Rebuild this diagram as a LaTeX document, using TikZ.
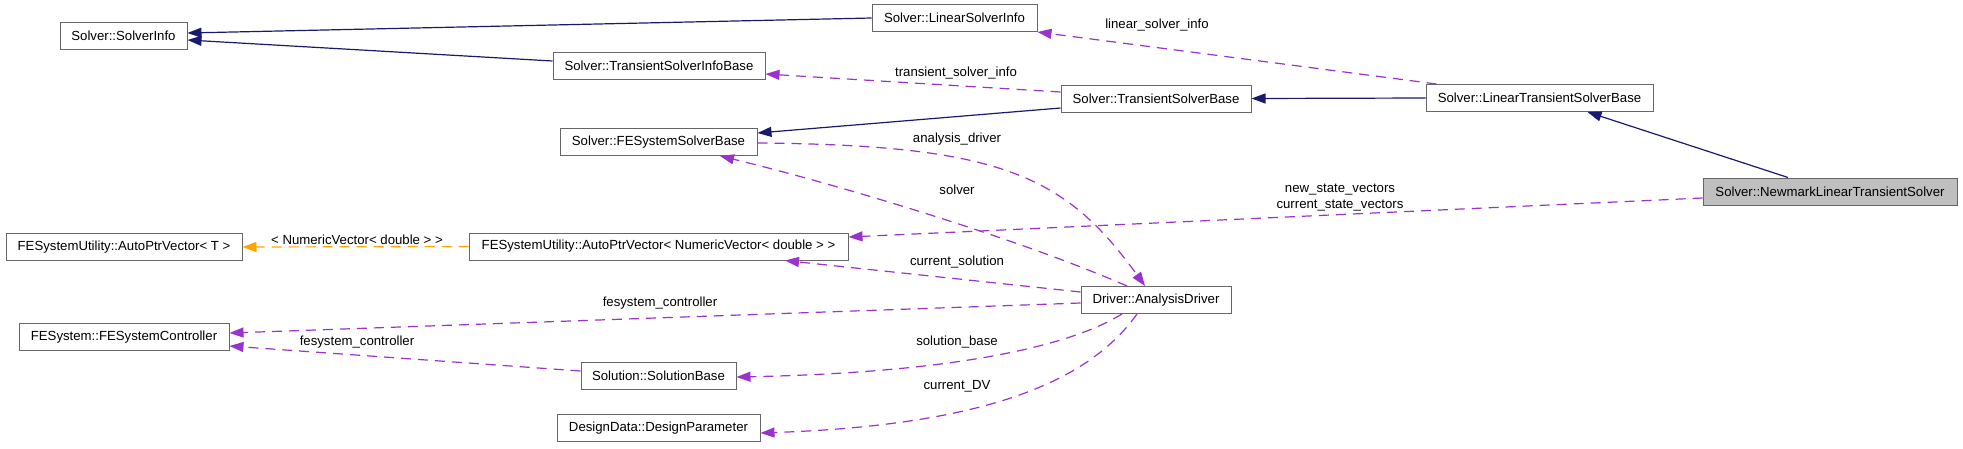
\documentclass[tikz,border=0pt]{standalone}
\usepackage{fontspec}
\setmainfont{Liberation Sans}
\usetikzlibrary{arrows.meta,calc}
\definecolor{navyedge}{HTML}{191970}
\definecolor{useedge}{HTML}{9A32CD}
\definecolor{tmpledge}{HTML}{FFA500}
\definecolor{curfill}{HTML}{BFBFBF}
\tikzset{
  cls/.style={draw=black!60, line width=1pt, fill=white, inner sep=0pt, minimum height=27pt, font=\fontsize{13.2pt}{15pt}\selectfont},
  cur/.style={cls, fill=curfill},
  inh/.style={draw=navyedge, line width=1.2pt, -{Triangle[length=14pt,width=10pt]}, color=navyedge},
  use/.style={draw=useedge, line width=1.2pt, dash pattern=on 10pt off 7pt, -{Triangle[length=14pt,width=10pt]}, color=useedge},
  tmpl/.style={draw=tmpledge, line width=1.2pt, dash pattern=on 10pt off 7pt, -{Triangle[length=14pt,width=10pt]}, color=tmpledge},
  lbl/.style={font=\fontsize{13.2pt}{15pt}\selectfont, text=black, inner sep=0pt, align=center}
}
\begin{document}
\begin{tikzpicture}[x=1pt,y=-1pt]
\useasboundingbox[fill=white] (0,0) rectangle (1963,448);
% nodes
\node[cls, minimum width=127pt] (SI) at (123.5,36) {Solver::SolverInfo};
\node[cls, minimum width=165pt] (LSI) at (954.5,18) {Solver::LinearSolverInfo};
\node[cls, minimum width=212pt] (TSIB) at (659,66) {Solver::TransientSolverInfoBase};
\node[cls, minimum width=197pt] (FSSB) at (658.5,142) {Solver::FESystemSolverBase};
\node[cls, minimum width=190pt] (TSB) at (1156,98.5) {Solver::TransientSolverBase};
\node[cls, minimum width=227pt] (LTSB) at (1539.5,98) {Solver::LinearTransientSolverBase};
\node[cur, minimum width=254pt] (NLTS) at (1830,191.5) {Solver::NewmarkLinearTransientSolver};
\node[cls, minimum width=236pt] (APT) at (124,247) {FESystemUtility::AutoPtrVector< T >};
\node[cls, minimum width=379pt] (APNV) at (658.5,246.5) {FESystemUtility::AutoPtrVector< NumericVector< double > >};
\node[cls, minimum width=150pt] (AD) at (1156,300) {Driver::AnalysisDriver};
\node[cls, minimum width=210pt] (FSC) at (124,337) {FESystem::FESystemController};
\node[cls, minimum width=155pt] (SB) at (658.5,376) {Solution::SolutionBase};
\node[cls, minimum width=203pt] (DP) at (658.5,428) {DesignData::DesignParameter};
% inheritance
\draw[inh] (LSI.west) -- ($(SI.east)+(0,-3)$);
\draw[inh] ($(TSIB.west)+(0,-5)$) -- ($(SI.east)+(0,4)$);
\draw[inh] (LTSB.west) -- (TSB.east);
\draw[inh] ($(NLTS.north)+(-42,0)$) -- ($(LTSB.south)+(48,0)$);
\draw[inh] ($(TSB.west)+(0,9.5)$) -- ($(FSSB.east)+(0,-9)$);
% usage
\draw[use] ($(TSB.west)+(0,-6.5)$) -- ($(TSIB.east)+(0,8)$);
\node[lbl] (l1) at (956,73) {transient\_solver\_info};
\draw[use] ($(LTSB.north west)+(11,0)$) -- (LSI.south east);
\node[lbl] (l2) at (1157,25) {linear\_solver\_info};
\draw[use] ($(NLTS.west)+(0,6.5)$) -- ($(APNV.east)+(0,-9.5)$);
\node[lbl] (l3) at (1340,190) {new\_state\_vectors};
\node[lbl] (l4) at (1340,206) {current\_state\_vectors};
\draw[use] ($(FSSB.east)+(0,1)$) .. controls (1000,145) and (1065,175) .. ($(AD.north)+(-11,0)$);
\node[lbl] (l5) at (957,139) {analysis\_driver};
\draw[use] ($(AD.north)+(-29,0)$) .. controls (1010,235) and (820,180) .. ($(FSSB.south)+(61.5,0)$);
\node[lbl] (l6) at (957,190) {solver};
\draw[use] ($(AD.west)+(0,-8)$) -- ($(APNV.south)+(126.5,0)$);
\node[lbl] (l7) at (957,262) {current\_solution};
\draw[use] ($(AD.west)+(0,3)$) -- ($(FSC.east)+(0,-4)$);
\node[lbl] (l8) at (660,303) {fesystem\_controller};
\draw[use] ($(SB.west)+(0,-5)$) -- ($(FSC.east)+(0,9)$);
\node[lbl] (l9) at (357,342) {fesystem\_controller};
\draw[use] ($(AD.south)+(-34,0)$) .. controls (1080,340) and (980,372) .. ($(SB.east)+(0,1)$);
\node[lbl] (l10) at (957,342) {solution\_base};
\draw[use] ($(AD.south)+(-19,0)$) .. controls (1090,380) and (990,425) .. ($(DP.east)+(0,5)$);
\node[lbl] (l11) at (957,386) {current\_DV};
% template
\draw[tmpl] (APNV.west) -- (APT.east);
\node[lbl] (l12) at (357,240) {< NumericVector< double > >};
\end{tikzpicture}
\end{document}
